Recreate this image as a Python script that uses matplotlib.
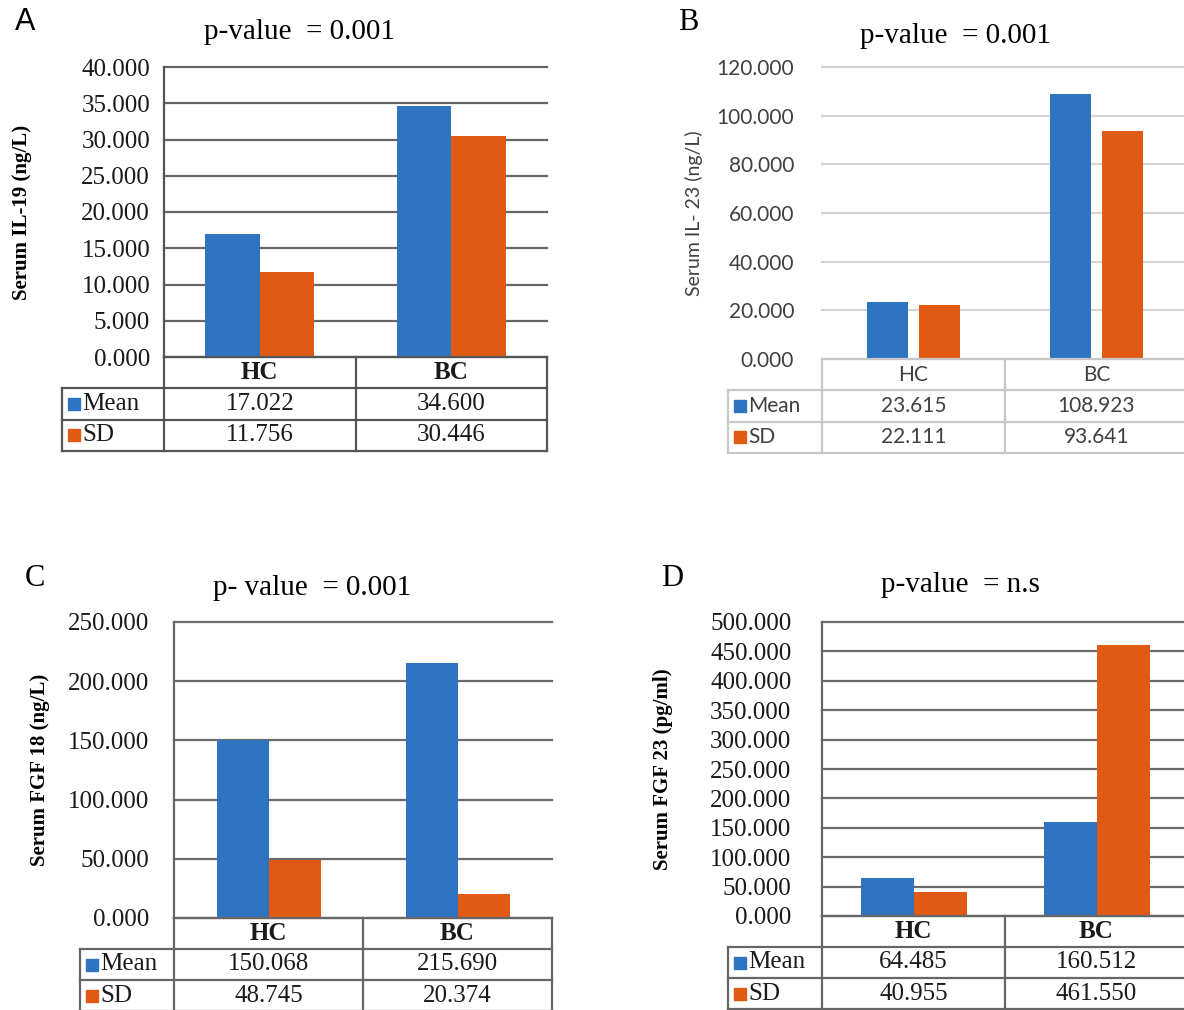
import numpy as np
import matplotlib.pyplot as plt

groups = ['HC', 'BC']
series = ['Mean', 'SD']

il19_mean = [17.022, 34.600]
il19_sd = [11.756, 30.446]
il23_mean = [23.615, 108.923]
il23_sd = [22.111, 93.641]
fgf18_mean = [150.068, 215.690]
fgf18_sd = [48.745, 20.374]
fgf23_mean = [64.485, 160.512]
fgf23_sd = [40.955, 461.550]

BLUE = '#2e74c0'
ORANGE = '#e05a14'
SERIF = ['Liberation Serif', 'DejaVu Serif']
SANS = ['Lato', 'DejaVu Sans']

W, H = 1184, 1010
fig = plt.figure(figsize=(W / 100, H / 100), dpi=100)


def box(l, t, r, b):
    # pixel rectangle (top-left origin) -> axes
    return fig.add_axes([l / W, 1 - b / H, (r - l) / W, (b - t) / H])


def panel(plot_px, tab_left, tab_bottom, mean, sd, ymax, step, ylabel, title,
          title_xy, letter, letter_xy, letter_font, width, offs, serif_text,
          tick_pad, grid_c, line_c, text_c, left_line, ylabel_x):
    l, t, r, b = plot_px
    cat_w = (r - l) / 2
    tfont = SERIF if serif_text else SANS
    tsize = 18 if serif_text else 15

    ax = box(l, t, r, b)
    x = np.arange(len(groups)) + 0.5
    ax.bar(x - offs[0], mean, width, color=BLUE, zorder=3)
    ax.bar(x + offs[1], sd, width, color=ORANGE, zorder=3)
    ax.set_xlim(0, 2)
    ax.set_ylim(0, ymax)
    ticks = np.arange(0, ymax + step / 2, step)
    ax.set_yticks(ticks)
    ax.set_yticklabels(['%.3f' % v for v in ticks], family=tfont,
                       fontsize=tsize, color=text_c)
    ax.tick_params(axis='y', length=0, pad=tick_pad)
    ax.set_xticks([])
    for s in ax.spines.values():
        s.set_visible(False)
    if left_line:
        ax.spines['left'].set_visible(True)
        ax.spines['left'].set_color(line_c)
        ax.spines['left'].set_linewidth(1.6)
    ax.grid(axis='y', color=grid_c, lw=1.6)
    for gl in ax.get_ygridlines():
        gl.set_clip_on(False)
    ax.set_axisbelow(True)

    fig.text(ylabel_x / W, 1 - ((t + b) / 2) / H, ylabel, rotation=90,
             ha='center', va='center', family=SERIF if serif_text else SANS,
             fontweight='bold' if serif_text else 'normal',
             fontsize=15 if serif_text else 14,
             color='black' if serif_text else text_c)
    fig.text(title_xy[0] / W, 1 - title_xy[1] / H, title, ha='center', va='center',
             family=SERIF, fontsize=21)
    fig.text(letter_xy[0] / W, 1 - letter_xy[1] / H, letter, ha='center', va='center',
             family=letter_font, fontsize=22)

    # data table below the plot
    tx = box(tab_left, b, r, tab_bottom)
    x0 = -(l - tab_left) / cat_w
    tx.set_xlim(x0, 2)
    tx.set_ylim(0, 3)
    tx.axis('off')
    kw = dict(color=line_c, lw=1.6, clip_on=False)
    tx.plot([0, 2], [3, 3], **kw)
    for yy in [2, 1, 0]:
        tx.plot([x0, 2], [yy, yy], **kw)
    tx.plot([x0, x0], [0, 2], **kw)
    for xx in [0, 1, 2]:
        tx.plot([xx, xx], [0, 3], **kw)
    for i, g in enumerate(groups):
        tx.text(i + 0.5, 2.5, g, ha='center', va='center', family=tfont,
                fontsize=tsize, color=text_c,
                fontweight='bold' if serif_text else 'normal')
        tx.text(i + 0.5, 1.5, '%.3f' % mean[i], ha='center', va='center',
                family=tfont, fontsize=tsize, color=text_c)
        tx.text(i + 0.5, 0.5, '%.3f' % sd[i], ha='center', va='center',
                family=tfont, fontsize=tsize, color=text_c)
    for yy, name, c in [(1.5, series[0], BLUE), (0.5, series[1], ORANGE)]:
        tx.plot([x0 + 12 / cat_w], [yy], marker='s', ms=9, color=c, clip_on=False)
        tx.text(x0 + 20 / cat_w, yy, name, ha='left', va='center', family=tfont,
                fontsize=tsize, color=text_c)


# A
panel((164, 67, 547, 357), 62, 451, il19_mean, il19_sd, 40, 5,
      'Serum IL-19 (ng/L)', 'p-value  = 0.001', (300, 32), 'A', (25, 22),
      ['Liberation Sans', 'DejaVu Sans'], 0.283, (0.142, 0.142), True, 10,
      '#666666', '#555555', '#1a1a1a', True, 22)
# B
panel((822, 67, 1188, 359), 728, 453, il23_mean, il23_sd, 120, 20,
      'Serum IL- 23 (ng/L)', 'p-value  = 0.001', (955, 36), 'B', (688, 22),
      SERIF, 0.22, (0.1425, 0.1425), False, 20,
      '#d4d4d4', '#c8c8c8', '#404040', False, 694)
# C
panel((174, 622, 552, 918), 80, 1011, fgf18_mean, fgf18_sd, 250, 50,
      'Serum FGF 18 (ng/L)', 'p- value  = 0.001', (312, 588), 'C', (35, 578),
      SERIF, 0.275, (0.135, 0.14), True, 18,
      '#6b6b6b', '#666666', '#1a1a1a', True, 40)
# D
panel((822, 622, 1188, 916), 728, 1009, fgf23_mean, fgf23_sd, 500, 50,
      'Serum FGF 23 (pg/ml)', 'p-value  = n.s', (960, 585), 'D', (672, 578),
      SERIF, 0.29, (0.14, 0.145), True, 22,
      '#6b6b6b', '#666666', '#1a1a1a', True, 663)

fig.savefig('out.png', dpi=100)
